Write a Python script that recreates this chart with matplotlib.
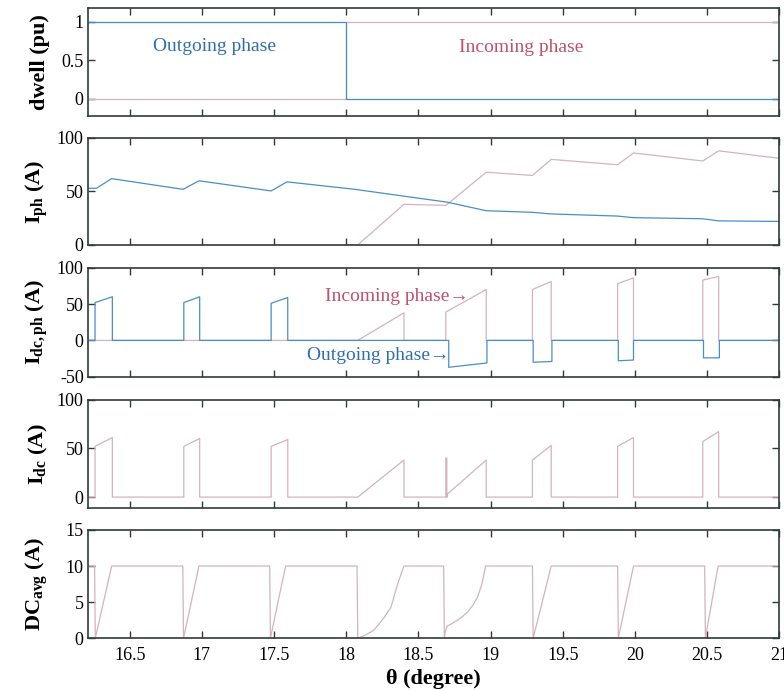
"""Switched reluctance phase commutation: dwell, phase current, dc-link currents."""
import matplotlib
matplotlib.use("Agg")
import matplotlib.pyplot as plt
from matplotlib.ticker import FormatStrFormatter

plt.rcParams["font.family"] = ["Liberation Serif", "DejaVu Serif"]
plt.rcParams["mathtext.fontset"] = "custom"
plt.rcParams["mathtext.rm"] = "Liberation Serif"
plt.rcParams["mathtext.bf"] = "Liberation Serif:bold"
plt.rcParams["mathtext.it"] = "Liberation Serif:italic"

# ---- data ----
TH0, TH1 = 16.21, 21.0
X_TICKS = [16.5, 17, 17.5, 18, 18.5, 19, 19.5, 20, 20.5, 21]

# dwell (pu)
dwell_out_th = [16.21, 18.0, 18.0, 21.0]
dwell_out = [1, 1, 0, 0]
dwell_in_th = [16.21, 18.0, 18.0, 21.0]
dwell_in = [0, 0, 1, 1]

# phase currents (A)
iph_out_th = [16.21, 16.27, 16.375, 16.87, 16.98, 17.48, 17.59, 18.06, 18.70,
              18.97, 19.29, 19.42, 19.88, 19.99, 20.47, 20.58, 21.0]
iph_out = [53, 53, 62, 52, 60, 50.5, 59, 52, 40,
           32, 30.5, 29, 27, 25.5, 24.5, 22.5, 22]
iph_in_th = [18.0, 18.08, 18.40, 18.69, 18.97, 19.29, 19.42, 19.88, 19.99,
             20.47, 20.58, 21.0]
iph_in = [0, 0, 38, 37, 68, 65, 80, 75, 86, 78.5, 88, 81]

# dc current per phase: pulses (on angle, off angle, value at on, value at off)
idcph_out_on = [16.26, 16.875, 17.48, 18.71, 19.295, 19.885, 20.475]
idcph_out_off = [16.38, 16.985, 17.595, 18.975, 19.425, 19.99, 20.585]
idcph_out_von = [52, 52, 51, -37, -30, -28, -24]
idcph_out_voff = [60, 60, 59, -31, -29, -27, -24]

idcph_in_on = [18.08, 18.69, 19.29, 19.88, 20.47]
idcph_in_off = [18.40, 18.97, 19.42, 19.99, 20.58]
idcph_in_von = [0, 39, 70, 78, 83]
idcph_in_voff = [38, 70, 81, 86, 88]

# total dc current
idc_on = [16.26, 16.875, 17.48, 18.08, 18.69, 18.70, 19.29, 19.88, 20.47]
idc_off = [16.38, 16.985, 17.595, 18.40, 18.697, 18.97, 19.42, 19.99, 20.58]
idc_von = [52, 52, 52, 0, 40, 3, 38, 52, 57]
idc_voff = [61, 60, 59, 38, 40, 38, 53, 61, 67]

# averaged duty cycle
dcavg_th = [16.21, 16.257, 16.262, 16.375, 16.868, 16.873, 16.98, 17.47, 17.475,
            17.58, 18.075, 18.08, 18.13, 18.19, 18.22, 18.26, 18.28, 18.31,
            18.33, 18.35, 18.375, 18.40, 18.675, 18.68, 18.685, 18.70, 18.73,
            18.77, 18.805, 18.84, 18.875, 18.91, 18.94, 18.965, 19.29, 19.295,
            19.42, 19.88, 19.885, 19.99, 20.483, 20.488, 20.576, 21.0]
dcavg = [10, 10, 0, 10, 10, 0, 10, 10, 0,
         10, 10, 0, 0.4, 1.1, 1.8, 2.8, 3.4, 4.3,
         5.7, 7.1, 8.6, 10, 10, 0, 0.8, 1.7, 2.0,
         2.5, 3.0, 3.6, 4.5, 5.7, 7.5, 10, 10, 0,
         10, 10, 0, 10, 10, 0, 10, 10]

C_OUT = "#4a8fc4"
C_OUT_TXT = "#2f6fae"
C_IN = "#d3b3bf"
C_IN_TXT = "#c0506e"
C_FRAME = "#2f3b3b"


def pulse_wave(on, off, v_on, v_off):
    th, v = [TH0], [0]
    for a, b, va, vb in zip(on, off, v_on, v_off):
        th += [a, a, b, b]
        v += [0, va, vb, 0]
    th.append(TH1)
    v.append(0)
    return th, v


fig = plt.figure(figsize=(7.84, 6.9), dpi=100)
left, width = 0.112, 0.882
bottoms = [0.832, 0.645, 0.454, 0.264, 0.075]
heights = [0.157, 0.155, 0.158, 0.157, 0.157]
axes = [fig.add_axes([left, b, width, h]) for b, h in zip(bottoms, heights)]

ylabels = ["dwell (pu)", r"I$_{\mathbf{ph}}$ (A)", r"I$_{\mathbf{dc,ph}}$ (A)",
           r"I$_{\mathbf{dc}}$ (A)", r"DC$_{\mathbf{avg}}$ (A)"]
ylims = [(-0.22, 1.18), (0, 100), (-50, 100), (-11, 100), (0, 15)]
yticks = [[0, 0.5, 1], [0, 50, 100], [-50, 0, 50, 100], [0, 50, 100], [0, 5, 10, 15]]

lw = 0.9
ax = axes[0]
ax.plot(dwell_in_th, dwell_in, color=C_IN, lw=lw)
ax.plot(dwell_out_th, dwell_out, color=C_OUT, lw=lw)
ax.text(17.09, 0.68, "Outgoing phase", color=C_OUT_TXT, fontsize=14, ha="center", va="center")
ax.text(19.21, 0.66, "Incoming phase", color=C_IN_TXT, fontsize=14, ha="center", va="center")

ax = axes[1]
ax.plot(iph_in_th, iph_in, color=C_IN, lw=lw)
ax.plot(iph_out_th, iph_out, color=C_OUT, lw=lw)

ax = axes[2]
th, v = pulse_wave(idcph_in_on, idcph_in_off, idcph_in_von, idcph_in_voff)
ax.plot(th, v, color=C_IN, lw=lw)
th, v = pulse_wave(idcph_out_on, idcph_out_off, idcph_out_von, idcph_out_voff)
ax.plot(th, v, color=C_OUT, lw=lw)
ax.text(17.85, 61, "Incoming phase\u2192", color=C_IN_TXT, fontsize=14, ha="left", va="center")
ax.text(17.73, -21, "Outgoing phase\u2192", color=C_OUT_TXT, fontsize=14, ha="left", va="center")

ax = axes[3]
th, v = pulse_wave(idc_on, idc_off, idc_von, idc_voff)
ax.plot(th, v, color=C_IN, lw=lw)

ax = axes[4]
ax.plot(dcavg_th, dcavg, color=C_IN, lw=lw)

for ax, lab, yl, yt in zip(axes, ylabels, ylims, yticks):
    ax.set_xlim(TH0, TH1)
    ax.set_ylim(*yl)
    ax.set_xticks(X_TICKS)
    ax.set_yticks(yt)
    ax.xaxis.set_major_formatter(FormatStrFormatter("%g"))
    ax.yaxis.set_major_formatter(FormatStrFormatter("%g"))
    ax.tick_params(direction="in", top=True, right=True, length=5, width=1,
                   color=C_FRAME, labelsize=13, pad=3)
    ax.tick_params(axis="x", pad=6)
    for s in ax.spines.values():
        s.set_color(C_FRAME)
        s.set_linewidth(1.2)
    ax.set_ylabel(lab, fontsize=16, fontweight="bold")
    ax.yaxis.set_label_coords(-0.055, 0.5)
    if ax is not axes[-1]:
        ax.tick_params(labelbottom=False)

axes[-1].set_xlabel("\u03b8 (degree)", fontsize=16, fontweight="bold", labelpad=4)

fig.savefig("out.png", dpi=100)
